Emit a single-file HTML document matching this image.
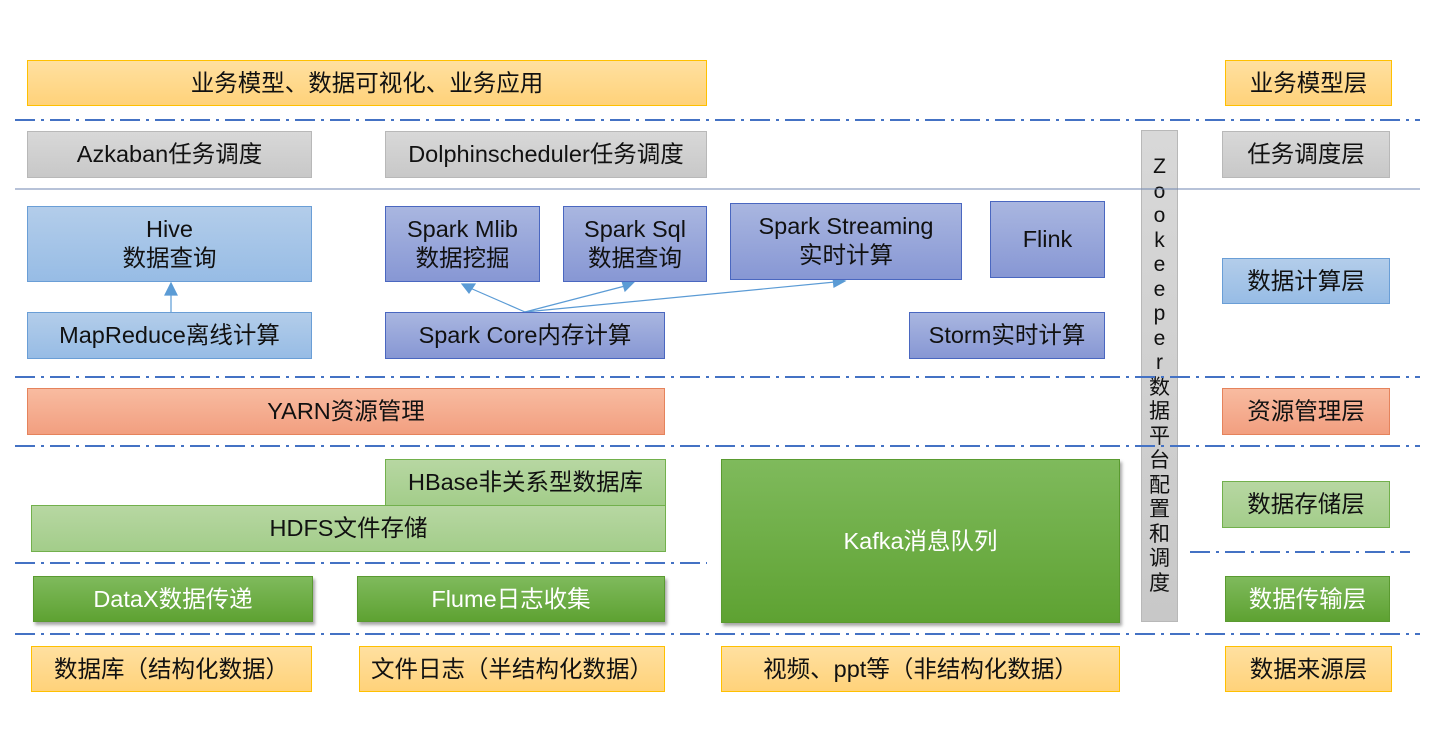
<!DOCTYPE html>
<html><head><meta charset="utf-8"><style>
body{margin:0;width:1443px;height:730px;background:#fff;position:relative;overflow:hidden;font-family:"Liberation Sans","Noto Sans CJK SC",sans-serif;}
.b{position:absolute;box-sizing:border-box;display:flex;align-items:center;justify-content:center;text-align:center;font-size:23.5px;color:#111;line-height:29px;white-space:nowrap;}
.y{background:linear-gradient(#ffe0a0,#ffd27a);border:1px solid #ffc000;}
.g{background:linear-gradient(#d8d8d8,#c8c8c8);border:1px solid #b8b8b8;}
.lb{background:linear-gradient(#b3cdea,#97bce5);border:1px solid #6a9ed6;}
.db{background:linear-gradient(#a9b6e0,#8797d4);border:1px solid #4a67c0;}
.s{background:linear-gradient(#f8bba0,#f29f80);border:1px solid #e5835c;}
.lg{background:linear-gradient(#b7d7a2,#a3cd8a);border:1px solid #72b04c;}
.dg{background:linear-gradient(#7fba5c,#5ea232);border:1px solid #5a9a30;color:#fff;box-shadow:2px 3px 3px rgba(0,0,0,.35);}
</style></head><body>
<svg style="position:absolute;left:0;top:0" width="1443" height="730">
<g stroke="#4472c4" stroke-width="2" stroke-dasharray="20,6,3,6">
<line x1="15" y1="120" x2="1420" y2="120"/>
<line x1="15" y1="377" x2="1420" y2="377"/>
<line x1="15" y1="446" x2="1420" y2="446"/>
<line x1="15" y1="563" x2="707" y2="563"/>
<line x1="1190" y1="552" x2="1410" y2="552"/>
<line x1="15" y1="634" x2="1420" y2="634"/>
</g>
<line x1="15" y1="189" x2="1420" y2="189" stroke="#6f86b0" stroke-width="1"/>
<g stroke="#5b9bd5" stroke-width="1.2" fill="#5b9bd5">
<line x1="171" y1="312" x2="171" y2="294"/><polygon points="165,295 177,295 171,283"/>
<line x1="525" y1="312" x2="470" y2="288"/><polygon points="462,284 475,284 469,293"/>
<line x1="525" y1="312" x2="625" y2="286"/><polygon points="634,282 622,281 625,291"/>
<line x1="525" y1="312" x2="835" y2="282"/><polygon points="845,281 833,277 834,287"/>
</g>
</svg>
<div class="b y" style="left:27px;top:60px;width:680px;height:46px">业务模型、数据可视化、业务应用</div>
<div class="b y" style="left:1225px;top:60px;width:167px;height:46px">业务模型层</div>
<div class="b g" style="left:27px;top:131px;width:285px;height:47px">Azkaban任务调度</div>
<div class="b g" style="left:385px;top:131px;width:322px;height:47px">Dolphinscheduler任务调度</div>
<div class="b g" style="left:1222px;top:131px;width:168px;height:47px">任务调度层</div>
<div class="b lb" style="left:27px;top:206px;width:285px;height:76px">Hive<br>数据查询</div>
<div class="b db" style="left:385px;top:206px;width:155px;height:76px">Spark Mlib<br>数据挖掘</div>
<div class="b db" style="left:563px;top:206px;width:144px;height:76px">Spark Sql<br>数据查询</div>
<div class="b db" style="left:730px;top:203px;width:232px;height:77px;align-items:flex-start;padding-top:8px">Spark Streaming<br>实时计算</div>
<div class="b db" style="left:990px;top:201px;width:115px;height:77px">Flink</div>
<div class="b lb" style="left:1222px;top:258px;width:168px;height:46px">数据计算层</div>
<div class="b lb" style="left:27px;top:312px;width:285px;height:47px">MapReduce离线计算</div>
<div class="b db" style="left:385px;top:312px;width:280px;height:47px">Spark Core内存计算</div>
<div class="b db" style="left:909px;top:312px;width:196px;height:47px">Storm实时计算</div>
<div class="b s" style="left:27px;top:388px;width:638px;height:47px">YARN资源管理</div>
<div class="b s" style="left:1222px;top:388px;width:168px;height:47px">资源管理层</div>
<div class="b lg" style="left:385px;top:459px;width:281px;height:47px">HBase非关系型数据库</div>
<div class="b lg" style="left:31px;top:505px;width:635px;height:47px">HDFS文件存储</div>
<div class="b dg" style="left:721px;top:459px;width:399px;height:164px">Kafka消息队列</div>
<div class="b lg" style="left:1222px;top:481px;width:168px;height:47px">数据存储层</div>
<div class="b dg" style="left:33px;top:576px;width:280px;height:46px">DataX数据传递</div>
<div class="b dg" style="left:357px;top:576px;width:308px;height:46px">Flume日志收集</div>
<div class="b dg" style="left:1225px;top:576px;width:165px;height:46px;box-shadow:none">数据传输层</div>
<div class="b y" style="left:31px;top:646px;width:281px;height:46px">数据库（结构化数据）</div>
<div class="b y" style="left:359px;top:646px;width:306px;height:46px">文件日志（半结构化数据）</div>
<div class="b y" style="left:721px;top:646px;width:399px;height:46px">视频、ppt等（非结构化数据）</div>
<div class="b y" style="left:1225px;top:646px;width:167px;height:46px">数据来源层</div>
<div class="b g" style="left:1141px;top:130px;width:37px;height:492px;align-items:flex-start;padding-top:24px;font-size:21px;line-height:24.5px;z-index:-1">Z<br>o<br>o<br>k<br>e<br>e<br>p<br>e<br>r<br>数<br>据<br>平<br>台<br>配<br>置<br>和<br>调<br>度</div>
</body></html>
